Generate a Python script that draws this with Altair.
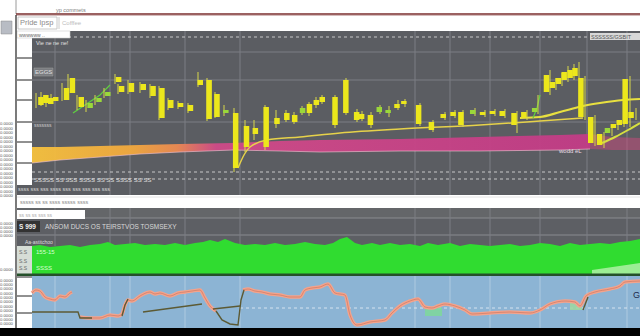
import altair as alt
import pandas as pd

# ---------------- data ----------------
# candles (day index, price)
c_day = [4, 9, 14, 19, 30, 36, 45, 54, 63, 72, 83, 86, 96, 108, 118, 127, 136, 146, 156, 166,
         175, 183, 192, 202, 213, 222, 233, 244, 254, 262, 270, 277, 284, 290, 303, 314, 325, 330,
         339, 348, 357, 366, 373, 388, 401, 413, 423, 431, 443, 453, 463, 473, 485, 495, 506, 518,
         524, 530, 536, 542, 547, 553, 563, 572, 580, 586, 592, 598, 604]
c_open = [10.3, 10.5, 10.2, 10.3, 11.2, 12.2, 10.3, 9.7, 10.2, 10.8, 12.3, 11.4, 11.7, 11.6, 11.4,
          11.2, 10.0, 9.7, 9.5, 12.0, 12.0, 10.6, 9.0, 8.7, 7.4, 7.2, 9.3, 8.2, 8.7, 8.5, 9.2, 9.6,
          10.0, 10.3, 10.3, 12.0, 8.8, 8.6, 8.5, 9.3, 9.0, 9.6, 9.9, 9.5, 7.8, 8.6, 8.8, 8.8, 9.0,
          8.8, 8.9, 8.9, 8.7, 8.8, 9.2, 12.5, 11.8, 12.2, 12.8, 13.0, 13.2, 12.2, 8.3, 6.6, 7.2,
          7.6, 8.0, 12.1, 8.8]
c_close = [9.5, 9.7, 9.6, 9.9, 10.0, 10.7, 9.3, 9.2, 9.8, 10.4, 11.8, 10.8, 10.8, 11.0, 10.4, 8.2,
           9.2, 9.3, 8.9, 11.5, 8.1, 8.3, 8.7, 3.2, 5.3, 6.6, 5.3, 7.6, 8.0, 7.8, 8.7, 8.7, 9.5, 9.8,
           7.5, 8.7, 8.0, 8.1, 7.5, 8.8, 8.7, 9.2, 9.6, 7.6, 7.0, 8.2, 8.4, 7.5, 8.6, 8.5, 8.6, 8.4,
           7.5, 8.2, 8.8, 10.8, 11.2, 11.6, 12.0, 12.2, 12.4, 8.3, 5.7, 5.5, 6.7, 7.2, 7.5, 7.6, 8.2]
c_high = [10.7, 10.8, 10.5, 10.6, 11.7, 12.6, 10.5, 10.0, 10.5, 11.2, 12.6, 11.6, 12.0, 11.8, 11.6,
          11.4, 10.2, 9.9, 9.7, 12.8, 12.2, 10.8, 9.5, 9.2, 8.0, 8.0, 9.5, 9.0, 9.0, 8.8, 9.4, 9.8,
          10.3, 10.5, 10.5, 12.2, 9.1, 8.9, 8.8, 9.5, 9.4, 10.0, 10.1, 9.7, 8.0, 8.8, 9.0, 9.0, 9.2,
          9.0, 9.1, 9.1, 8.9, 9.0, 10.5, 13.0, 12.2, 12.7, 13.4, 13.6, 13.8, 12.4, 8.5, 6.8, 7.5,
          8.0, 8.4, 12.4, 9.2]
c_low = [9.2, 9.4, 9.3, 9.6, 9.9, 10.5, 9.0, 8.8, 9.5, 10.2, 11.6, 10.6, 10.6, 10.7, 10.2, 8.0,
         9.0, 9.1, 8.7, 11.3, 7.9, 8.2, 8.4, 2.8, 4.8, 6.0, 5.0, 7.2, 7.8, 7.6, 8.5, 8.4, 9.2, 9.6,
         7.2, 8.5, 7.8, 7.9, 7.2, 8.6, 8.3, 9.0, 9.3, 7.4, 6.8, 8.0, 8.2, 7.3, 8.4, 8.3, 8.4, 8.2,
         6.7, 8.0, 8.6, 10.5, 11.0, 11.4, 11.8, 12.0, 12.2, 8.0, 5.4, 5.2, 6.4, 7.0, 7.3, 7.3, 8.0]
c_kind = ["Y", "Y", "Y", "Y", "Y", "Y", "Y", "G", "G", "G", "Y", "Y", "Y", "Y", "Y", "Y", "Y",
          "Y", "Y", "Y", "Y", "Y", "G", "Y", "Y", "Y", "Y", "Y", "Y", "Y", "G", "Y", "Y", "Y",
          "Y", "Y", "Y", "Y", "Y", "G", "G", "Y", "Y", "Y", "Y", "Y", "Y", "Y", "G", "Y", "Y",
          "Y", "Y", "Y", "G", "Y", "Y", "Y", "Y", "Y", "Y", "Y", "Y", "Y", "G", "Y", "Y", "Y", "Y"]

# moving-average band
band_day = [0, 28, 68, 108, 148, 201, 248, 288, 368, 448, 528, 558]
band_top = [5.3, 5.3, 5.4, 5.5, 5.6, 5.7, 5.9, 6.0, 6.1, 6.3, 6.5, 6.6]
band_bot = [3.7, 4.0, 4.3, 4.6, 4.8, 5.0, 4.9, 4.8, 4.9, 4.9, 5.0, 5.1]
tail_day = [558, 580, 608]
tail_top = [6.6, 6.3, 6.2]
tail_bot = [5.1, 5.0, 5.0]

ma1_day = [206, 212, 218, 235, 268, 308, 368, 448, 508, 551]
ma1_val = [3.2, 4.5, 5.3, 6.0, 6.3, 6.7, 7.1, 7.5, 7.9, 8.2]
ma2_day = [488, 508, 528, 551, 568, 591, 608]
ma2_val = [8.2, 8.3, 8.8, 9.4, 9.7, 10.0, 10.1]
ma3_day = [570, 583, 596, 608]
ma3_val = [5.7, 6.3, 7.0, 7.7]
grn_day = [41, 53, 68, 78, 501, 505, 508]
grn_val = [8.7, 9.5, 10.5, 11.5, 8.2, 9.2, 10.5]
grn_seg = ["a", "a", "a", "a", "b", "b", "b"]

grid_days = [23, 78, 98, 153, 208, 383, 418, 458, 508, 555, 595]
hgrid_solid = [14.8, 12.0, 7.8]
hgrid_dash = [16.3, 2.8, 2.1]

# volume
vol_day = [0, 8, 18, 28, 38, 48, 58, 68, 76, 83, 93, 103, 113, 123, 133, 143, 153, 163, 171, 178,
           186, 193, 203, 213, 223, 233, 243, 253, 263, 273, 283, 293, 301, 308, 315, 323, 330, 340,
           348, 358, 368, 378, 388, 396, 406, 418, 428, 438, 448, 458, 468, 478, 488, 498, 508, 518,
           528, 538, 548, 558, 568, 578, 588, 598, 608]
vol_val = [28, 29, 27, 28, 29, 27, 29, 30, 32, 29, 30, 31, 29, 30, 29, 31, 29, 31, 32, 34,
           32, 35, 31, 29, 30, 29, 31, 29, 30, 32, 30, 29, 31, 35, 37, 31, 29, 31, 29, 31,
           29, 30, 28, 31, 29, 31, 28, 30, 29, 28, 29, 30, 28, 29, 31, 30, 28, 31, 29, 30,
           31, 30, 32, 33, 35]
vol_lines = [56, 39]
wedge_day = [560, 608]
wedge_top = [4, 11]

# lower panel lines
s_day = [0, 4, 8, 13, 18, 23, 28, 33, 38, 40,
         48, 58, 68, 78, 86, 90, 93, 96, 100, 108, 118, 123, 128, 138, 146, 153, 160, 168, 173, 178, 184,
         211, 216, 223, 230, 238, 248, 258, 268, 273, 280, 288, 296, 303, 313, 318, 325, 338, 353, 360,
         368, 378, 386, 393, 400, 406, 413, 423, 433, 440, 458, 478, 498, 508, 518, 533, 543, 548, 554,
         563, 578, 588, 593, 608]
s_val = [35, 38, 37, 31, 29, 28, 32, 31, 35, 36,
         11, 10, 10, 13, 12, 14, 23, 28, 27, 32, 36, 34, 35, 32, 35, 36, 37, 38, 30, 22, 17,
         38, 39, 37, 36, 34, 33, 31, 31, 38, 40, 41, 44, 35, 33, 13, 3, 6, 8, 15,
         22, 27, 29, 21, 20, 22, 24, 22, 18, 14, 15, 16, 15, 18, 24, 27, 26, 22, 32,
         36, 39, 42, 46, 47]
s_seg = ["s1"] * 10 + ["s2"] * 21 + ["s3"] * 43
d_day = [0, 46, 48, 60, 90, 93, 96, 111, 170, 181, 208, 184, 190, 198, 206, 209, 212, 551, 556]
d_val = [16, 16, 10, 10, 12, 23, 29, 16, 24, 19, 22, 17, 8, 4, 3, 28, 38, 18, 31]
d_seg = ["d1"] * 4 + ["d2"] * 3 + ["d3"] * 2 + ["d4"] * 2 + ["d5"] * 6 + ["d6"] * 2
fill_day = [393, 400, 406, 410]
fill_val = [21, 20, 22, 20]
fill2_day = [538, 550]
fill2_val = [27, 22]

# ---------------- scales ----------------
X = alt.Scale(domain=[0, 608], range=[32, 640])
YP = alt.Scale(domain=[0.5, 17], range=[195, 30])
YV = alt.Scale(domain=[0, 66], range=[274, 208])
YB = alt.Scale(domain=[0, 52], range=[328, 276])


def xq(f):
    return alt.X(f, type="quantitative", scale=X, axis=None)


def yq(f, sc):
    return alt.Y(f, type="quantitative", scale=sc, axis=None)


dummy = pd.DataFrame({"d": [0]})
FONT = "Liberation Sans"


def box(x1, y1, x2, y2, fill, stroke=None, sw=0.0, op=1.0):
    kw = dict(fill=fill, opacity=op)
    if stroke:
        kw.update(stroke=stroke, strokeWidth=sw)
    return alt.Chart(dummy).mark_rect(**kw).encode(
        x=alt.value(x1), x2=alt.value(x2), y=alt.value(y1), y2=alt.value(y2))


def hline(x1, x2, y, color, sw=1.0, dash=None):
    kw = dict(color=color, strokeWidth=sw)
    if dash:
        kw["strokeDash"] = dash
    return alt.Chart(dummy).mark_rule(**kw).encode(
        x=alt.value(x1), x2=alt.value(x2), y=alt.value(y))


def vline(x, y1, y2, color, sw=1.0):
    return alt.Chart(dummy).mark_rule(color=color, strokeWidth=sw).encode(
        x=alt.value(x), y=alt.value(y1), y2=alt.value(y2))


def txt(s, x, y, size=6, color="#dddddd", weight="normal"):
    return alt.Chart(dummy).mark_text(text=s, fontSize=size, color=color, align="left",
                                      baseline="middle", font=FONT, fontWeight=weight).encode(
        x=alt.value(x), y=alt.value(y))


candles = pd.DataFrame({"day": c_day, "open": c_open, "close": c_close,
                        "high": c_high, "low": c_low, "kind": c_kind})
band = pd.DataFrame({"day": band_day, "top": band_top, "bot": band_bot})
tail = pd.DataFrame({"day": tail_day, "top": tail_top, "bot": tail_bot})
ma1 = pd.DataFrame({"day": ma1_day, "p": ma1_val})
ma2 = pd.DataFrame({"day": ma2_day, "p": ma2_val})
ma3 = pd.DataFrame({"day": ma3_day, "p": ma3_val})
grn = pd.DataFrame({"day": grn_day, "p": grn_val, "seg": grn_seg})
grid = pd.DataFrame({"day": grid_days})
hs = pd.DataFrame({"p": hgrid_solid})
hd = pd.DataFrame({"p": hgrid_dash})
vol = pd.DataFrame({"day": vol_day, "v": vol_val})
vl = pd.DataFrame({"v": vol_lines})
wedge = pd.DataFrame({"day": wedge_day, "v": wedge_top})
sal = pd.DataFrame({"day": s_day, "b": s_val, "seg": s_seg})
drk = pd.DataFrame({"day": d_day, "b": d_val, "seg": d_seg})
fil = pd.DataFrame({"day": fill_day, "b": fill_val})
fil2 = pd.DataFrame({"day": fill2_day, "b": fill2_val})

layers = []

# ---------------- header ----------------
layers += [
    vline(16, 0, 14, "#9a9a9a"),
    hline(16, 640, 14, "#7a2c2c", 1.5),
    hline(16, 640, 15.5, "#c9a9a9", 0.8),
    txt("yp commets", 56, 9.5, 5.5, "#808080"),
    box(1, 21, 12, 34, "#b8bcc4", "#888888", 0.5),
    box(18, 17, 57, 29, "#ffffff", "#bbbbbb", 0.8),
    txt("Prlde lpsp", 20, 23, 7.5, "#8c8c8c"),
    vline(59, 17, 29, "#cccccc"),
    txt("Cofffee", 62, 23, 6, "#bdbdbd"),
]

# ---------------- top panel ----------------
layers += [
    box(32, 31, 640, 195, "#5b5d62"),
    box(17, 185, 32, 195, "#5b5d62"),
    alt.Chart(grid).mark_rule(color="#7d7f84", strokeWidth=1).encode(
        x=xq("day"), y=alt.value(31), y2=alt.value(195)),
    alt.Chart(hs).mark_rule(color="#7d7f84", strokeWidth=1).encode(
        y=yq("p", YP), x=alt.value(32), x2=alt.value(640)),
    alt.Chart(hd).mark_rule(color="#c8c8c8", strokeWidth=1, strokeDash=[3, 3]).encode(
        y=yq("p", YP), x=alt.value(32), x2=alt.value(640)),
    box(17, 31, 70, 38, "#ffffff", "#cccccc", 0.6),
    txt("wwwwww  ..", 19, 34.5, 5, "#666666"),
    alt.Chart(band).mark_area(
        color=alt.Gradient(gradient="linear", x1=0, x2=1, y1=0, y2=0, stops=[
            alt.GradientStop(color="#f6c23e", offset=0),
            alt.GradientStop(color="#f2a93e", offset=0.18),
            alt.GradientStop(color="#ec8a52", offset=0.26),
            alt.GradientStop(color="#d04a88", offset=0.33),
            alt.GradientStop(color="#c23c86", offset=1)]),
        opacity=0.95).encode(
        x=xq("day"), y=yq("top", YP), y2="bot:Q"),
    alt.Chart(tail).mark_area(color="#cc4a7c", opacity=0.5).encode(
        x=xq("day"), y=yq("top", YP), y2="bot:Q"),
    alt.Chart(band).mark_line(color="#f0c0d0", strokeWidth=0.8, opacity=0.8).encode(
        x=xq("day"), y=yq("bot", YP)),
    alt.Chart(ma1).mark_line(color="#e6d24a", strokeWidth=1.5, interpolate="monotone").encode(
        x=xq("day"), y=yq("p", YP)),
    alt.Chart(ma2).mark_line(color="#e8e040", strokeWidth=2.2, interpolate="monotone").encode(
        x=xq("day"), y=yq("p", YP)),
    alt.Chart(ma3).mark_line(color="#d6e040", strokeWidth=2, interpolate="monotone").encode(
        x=xq("day"), y=yq("p", YP)),
    alt.Chart(grn).mark_line(color="#5fd040", strokeWidth=1.2).encode(
        x=xq("day"), y=yq("p", YP), detail="seg:N"),
    alt.Chart(candles).mark_rule(color="#d8d84a", strokeWidth=1).encode(
        x=xq("day"), y=yq("high", YP), y2="low:Q"),
    alt.Chart(candles).mark_bar(size=5.5).encode(
        x=xq("day"), y=yq("open", YP), y2="close:Q",
        color=alt.Color("kind:N", scale=alt.Scale(domain=["Y", "G"], range=["#ece71c", "#9ad83a"]),
                        legend=None)),
    txt("Vie ne ne ne!", 36, 43, 5.5, "#e2e2e2"),
    box(34, 68, 53, 76, "#7a7c80", "#a0a0a0", 0.5),
    txt("EGGS", 35, 72, 6, "#e0e0e0"),
    txt("sssssss", 34, 125, 5, "#cfcfcf"),
    txt("SSSSS SS SSS SSSS SS SS SSSS SS SS", 34, 179.5, 6, "#dedede"),
    txt("ssss sss sss ssss sss sss sss sss sss", 18, 189, 5.5, "#d6d6d6"),
    box(590, 33, 640, 40, "#d8d8d8"),
    txt("SSSSSS/GSBIT", 591, 36.5, 5.5, "#555555"),
    txt("wodd eL", 559, 151, 6, "#eadce4"),
]

# ---------------- white strip ----------------
layers += [
    hline(17, 640, 197, "#dddddd", 0.8),
    txt("sssss ss ss  ssss sssss  ssss", 20, 202, 5.5, "#8a8a8a"),
]

# ---------------- middle panel ----------------
layers += [
    box(17, 208, 640, 274, "#5d5f64"),
    box(17, 208, 640, 218, "#646669"),
    alt.Chart(vl).mark_rule(color="#8a8c90", strokeWidth=1).encode(
        y=yq("v", YV), x=alt.value(17), x2=alt.value(640)),
    alt.Chart(grid).mark_rule(color="#7d7f84", strokeWidth=1).encode(
        x=xq("day"), y=alt.value(208), y2=alt.value(246)),
    alt.Chart(vol).mark_area(color="#30dc30").encode(
        x=xq("day"), y=yq("v", YV), y2=alt.datum(0)),
    alt.Chart(wedge).mark_area(color="#a8f0a0", opacity=0.9).encode(
        x=xq("day"), y=yq("v", YV), y2=alt.datum(0)),
    box(17, 210, 85, 219, "#ffffff"),
    txt("ss ss ss  sss  ss", 19, 214.5, 5, "#aaaaaa"),
    box(17, 221, 40, 232, "#333333"),
    txt("S 999", 19, 226.5, 6.5, "#f0f0f0", "bold"),
    txt("ANSOM  DUCS  OS  TEIRSTVOS  TOSMSEXY", 45, 226.5, 6.5, "#d8d8d8"),
    txt("Aa-astitchoo", 25, 242, 5, "#dddddd"),
    box(17, 246, 32, 274, "#d6ddd6"),
    txt("S.S", 19, 252, 5, "#6a6a6a"),
    txt("S.S", 19, 261, 5, "#6a6a6a"),
    txt("S.S", 19, 268, 5, "#6a6a6a"),
    txt("155-15", 36, 252, 6, "#d8ffd0"),
    txt("SSSS", 36, 268, 6, "#d8ffd0"),
    box(17, 273.5, 640, 276, "#24502a"),
]

# ---------------- bottom panel ----------------
layers += [
    box(32, 276, 640, 328, "#8cb4d4"),
    alt.Chart(grid).mark_rule(color="#ffffff", strokeWidth=1, opacity=0.3).encode(
        x=xq("day"), y=alt.value(276), y2=alt.value(328)),
    hline(240, 640, 308, "#e8f0f8", 0.8, [3, 3]),
    alt.Chart(fil).mark_area(color="#7ed89a", opacity=0.85).encode(
        x=xq("day"), y=yq("b", YB), y2=alt.datum(12)),
    alt.Chart(fil2).mark_area(color="#9ed8a0", opacity=0.85).encode(
        x=xq("day"), y=yq("b", YB), y2=alt.datum(18)),
    alt.Chart(sal).mark_line(color="#f4a38c", strokeWidth=3.5, interpolate="monotone").encode(
        x=xq("day"), y=yq("b", YB), detail="seg:N"),
    alt.Chart(sal).mark_line(color="#c0705a", strokeWidth=0.8, interpolate="monotone",
                             opacity=0.7).encode(
        x=xq("day"), y=yq("b", YB), detail="seg:N"),
    alt.Chart(drk).mark_line(color="#5c5a34", strokeWidth=1.4).encode(
        x=xq("day"), y=yq("b", YB), detail="seg:N"),
    txt("G", 633, 295, 9, "#1c2a4c"),
    hline(17, 32, 277, "#222222", 1),
    hline(17, 32, 296, "#222222", 1),
    hline(17, 32, 313, "#222222", 1),
    box(0, 328, 640, 336, "#000000"),
]

# ---------------- left column ----------------
layers += [vline(16, 15, 328, "#222222", 1.2)]
for yy in [58, 80, 100, 122, 142, 163]:
    layers.append(hline(17, 32, yy, "#222222", 1))
for yy in [124, 128.5, 133, 137.5, 142, 146.5, 151, 155.5, 160, 164.5, 169, 173.5, 178, 182.5, 187,
           191.5, 196]:
    layers.append(txt("0.0000", 0, yy, 4.2, "#555555"))
for yy in [224, 228, 232, 236, 270, 281, 285, 289, 294, 298, 302, 307, 311, 316, 320, 324]:
    layers.append(txt("0.0000", 0, yy, 4.2, "#555555"))

chart = alt.layer(*layers).resolve_scale(x="independent", y="independent").properties(
    width=640, height=336, autosize=alt.AutoSizeParams(type="none"), padding=0,
    background="#ffffff"
).configure_view(stroke=None)

chart.save("out.html", embed_options={"renderer": "svg", "actions": False})
